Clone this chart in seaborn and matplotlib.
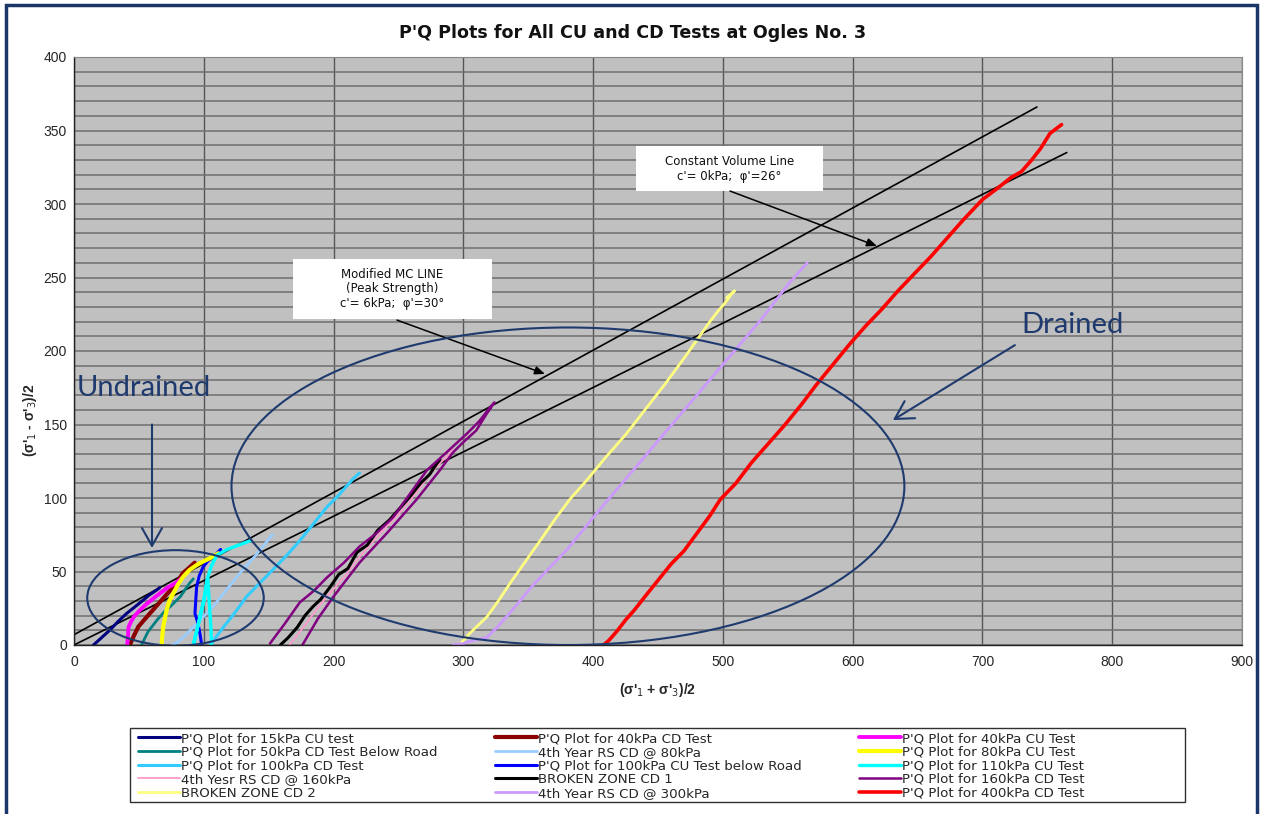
import numpy as np
import pandas as pd
import matplotlib
matplotlib.use("Agg")
import matplotlib.pyplot as plt
import seaborn as sns
from matplotlib.patches import Ellipse, Rectangle

# ---------------- data ----------------
mc_p = [0, 742]
mc_q = [7, 366]
cv_p = [0, 765]
cv_q = [0, 335]

p_15cu = [15, 20, 27.7, 34, 40.6, 47, 53.4, 58, 63.7, 66]
q_15cu = [0, 4, 10.2, 16, 21.5, 26, 30.6, 34, 37.4, 39]

p_40cd = [43, 46, 49.6, 55, 61, 67, 74, 79, 84, 88, 93]
q_40cd = [0, 6, 12.5, 18, 24, 30, 37, 42, 49, 52, 56]

p_40cu = [41, 41.5, 42, 44, 46, 50, 56, 63, 72, 78, 84]
q_40cu = [0, 5, 12, 16, 19, 23, 28, 33, 39, 42, 46]

p_50cd = [52, 57, 64, 69, 74, 82, 89, 92]
q_50cd = [0, 9, 17, 22, 26, 33, 42, 45]

p_rs80 = [76, 80, 84, 95, 107, 117, 128, 140, 151, 153]
q_rs80 = [0, 2, 5, 15, 26, 37, 49, 61, 73, 75]

p_80cu = [67.5, 68, 68.8, 70, 71.4, 73.5, 76.5, 80, 84.2, 89, 94.5, 100, 104.8, 111.2]
q_80cu = [0, 6, 12.5, 18, 23.8, 30, 35.1, 41, 46.5, 51, 54.4, 57, 59, 62.4]

p_100cd = [105, 110, 115, 124, 133, 143, 153, 164, 174, 185, 195, 203, 210, 215, 220]
q_100cd = [0, 6, 12, 22, 33, 42, 51, 61, 71, 83, 94, 101, 108, 113, 117]

p_100cu = [98.4, 97, 95.5, 93.2, 93.8, 94.5, 96.5, 99.6, 104, 110, 113]
q_100cu = [0, 8, 15, 21.5, 30, 39.7, 47, 53.3, 58, 62.4, 65]

p_110cu = [106, 105.5, 104.5, 103, 100, 96, 92, 96, 100, 103, 106, 110, 118, 127, 136]
q_110cu = [0, 12, 25, 46, 30, 15, 0, 15, 30, 46, 54, 61, 65, 68, 71]

p_rs160 = [166, 175, 185, 195, 208, 220, 235, 251, 264, 277, 287, 292]
q_rs160 = [0, 10, 22, 33, 46, 60, 75, 90, 104, 119, 128, 133]

p_bz1 = [159, 165, 172, 178, 184, 190, 197, 204, 211, 218, 226, 234, 243, 250, 258, 267, 274, 280, 282]
q_bz1 = [0, 5, 12, 20, 26, 31, 39, 48, 52, 63, 68, 78, 85, 92, 100, 110, 116, 124, 126]

p_160cd = [151, 162, 174, 185, 195, 208, 220, 233, 246, 259, 272, 287, 303, 312, 321, 324,
           318, 322, 310, 300, 292, 282, 264, 241, 220, 200, 188, 176]
q_160cd = [1, 14, 29, 37, 46, 56, 67, 76, 87, 103, 119, 131, 144, 152, 162, 165,
           158, 163, 146, 138, 131, 119, 99, 76, 56, 33, 18, 0]

p_bz2 = [297, 305, 318, 327, 336, 348, 360, 371, 382, 396, 410, 425, 440, 455, 470, 482,
         490, 497, 502, 506, 509, 503, 508]
q_bz2 = [0, 8, 19, 30, 42, 57, 72, 86, 99, 113, 128, 143, 160, 177, 195, 210,
         220, 228, 233, 238, 241, 236, 240]

p_rs300 = [292, 300, 307, 318, 326, 336, 355, 380, 405, 430, 455, 480, 505, 530, 550, 565]
q_rs300 = [0, 1, 3, 5, 12, 22, 42, 65, 92, 118, 144, 170, 196, 222, 245, 260]

p_400cd = [408, 412, 418, 425, 432, 440, 450, 460, 470, 480, 490, 498, 510, 522, 535, 548,
           560, 572, 585, 598, 610, 622, 635, 648, 660, 672, 685, 700, 712, 722, 730, 738,
           745, 752, 758, 761]
q_400cd = [0, 3, 9, 17, 24, 33, 44, 55, 64, 76, 88, 99, 110, 124, 137, 150,
           163, 177, 191, 205, 217, 228, 241, 253, 264, 276, 289, 303, 311, 318, 322, 330,
           338, 348, 352, 354]

x_ticks = [0, 100, 200, 300, 400, 500, 600, 700, 800, 900]
y_ticks = [0, 50, 100, 150, 200, 250, 300, 350, 400]

title = "P'Q Plots for All CU and CD Tests at Ogles No. 3"
x_label = r"(σ'$_1$ + σ'$_3$)/2"
y_label = r"(σ'$_1$ - σ'$_3$)/2"

# (label, p, q) ; styles kept separately
series = [
    ("P'Q Plot for 15kPa CU test", p_15cu, q_15cu),
    ("P'Q Plot for 50kPa CD Test Below Road", p_50cd, q_50cd),
    ("P'Q Plot for 100kPa CD Test", p_100cd, q_100cd),
    ("4th Yesr RS CD @ 160kPa", p_rs160, q_rs160),
    ("BROKEN ZONE CD 2", p_bz2, q_bz2),
    ("P'Q Plot for 40kPa CD Test", p_40cd, q_40cd),
    ("4th Year RS CD @ 80kPa", p_rs80, q_rs80),
    ("P'Q Plot for 100kPa CU Test below Road", p_100cu, q_100cu),
    ("BROKEN ZONE CD 1", p_bz1, q_bz1),
    ("4th Year RS CD @ 300kPa", p_rs300, q_rs300),
    ("P'Q Plot for 40kPa CU Test", p_40cu, q_40cu),
    ("P'Q Plot for 80kPa CU Test", p_80cu, q_80cu),
    ("P'Q Plot for 110kPa CU Test", p_110cu, q_110cu),
    ("P'Q Plot for 160kPa CD Test", p_160cd, q_160cd),
    ("P'Q Plot for 400kPa CD Test", p_400cd, q_400cd),
]
styles = {
    "P'Q Plot for 15kPa CU test": ("#000080", 2.2),
    "P'Q Plot for 50kPa CD Test Below Road": ("#008080", 2.0),
    "P'Q Plot for 100kPa CD Test": ("#33ccff", 2.2),
    "4th Yesr RS CD @ 160kPa": ("#ff99cc", 1.3),
    "BROKEN ZONE CD 2": ("#ffff80", 2.0),
    "P'Q Plot for 40kPa CD Test": ("#8b0000", 3.0),
    "4th Year RS CD @ 80kPa": ("#99ccff", 2.0),
    "P'Q Plot for 100kPa CU Test below Road": ("#0000ff", 2.2),
    "BROKEN ZONE CD 1": ("#000000", 2.2),
    "4th Year RS CD @ 300kPa": ("#cc99ff", 2.0),
    "P'Q Plot for 40kPa CU Test": ("#ff00ff", 2.8),
    "P'Q Plot for 80kPa CU Test": ("#ffff00", 3.0),
    "P'Q Plot for 110kPa CU Test": ("#00ffff", 2.4),
    "P'Q Plot for 160kPa CD Test": ("#800080", 1.8),
    "P'Q Plot for 400kPa CD Test": ("#ff0000", 2.6),
}

# ---------------- figure ----------------
sns.set_theme(style="white")
plt.rcParams["font.family"] = ["Liberation Sans", "DejaVu Sans"]

W, H = 1263, 814
fig = plt.figure(figsize=(W / 100, H / 100), dpi=100)
ax = fig.add_axes([74 / W, 1 - 645 / H, (1242 - 74) / W, (645 - 57) / H])
ax.set_facecolor("#c0c0c0")

ax.set_xlim(0, 900)
ax.set_ylim(0, 400)
ax.set_xticks(x_ticks)
ax.set_yticks(y_ticks)
ax.set_xticks(np.arange(0, 901, 20), minor=True)
ax.set_yticks(np.arange(0, 401, 10), minor=True)
ax.grid(which="both", axis="y", color="#6e6e6e", lw=1.1)
ax.grid(which="major", axis="x", color="#555555", lw=1.0)
ax.set_axisbelow(True)
ax.tick_params(axis="x", which="major", direction="out", length=4, labelsize=10, color="#333", pad=3)
ax.tick_params(axis="x", which="minor", direction="in", length=3, color="#333")
ax.tick_params(axis="y", which="major", direction="out", length=3, labelsize=10, color="#333", pad=2)
ax.tick_params(axis="y", which="minor", length=0)
for s in ["top", "right"]:
    ax.spines[s].set_color("#888888")
    ax.spines[s].set_linewidth(0.8)
for s in ["left", "bottom"]:
    ax.spines[s].set_color("#222222")
    ax.spines[s].set_linewidth(1.0)

# failure lines
sns.lineplot(x=mc_p, y=mc_q, color="black", lw=1.2, ax=ax, legend=False, sort=False)
sns.lineplot(x=cv_p, y=cv_q, color="black", lw=1.2, ax=ax, legend=False, sort=False)

# test paths
for label, p, q in series:
    c, lw = styles[label]
    df = pd.DataFrame({"p": p, "q": q})
    sns.lineplot(data=df, x="p", y="q", sort=False, estimator=None, color=c, lw=lw,
                 label=label, ax=ax)

ax.set_xlabel(x_label, fontsize=10, fontweight="bold", labelpad=9)
ax.set_ylabel(y_label, fontsize=10, fontweight="bold")
ax.yaxis.set_label_coords(-0.03, (645 - 420) / 588)

# legend
handles, labels = ax.get_legend_handles_labels()
ax.legend(handles, labels, loc="upper left",
          bbox_to_anchor=(138 / W, 1 - 732 / H), bbox_transform=fig.transFigure,
          ncol=3, frameon=False, prop={"family": "DejaVu Sans", "size": 9.6},
          handlelength=3.15, handletextpad=0.08, columnspacing=4.3,
          labelspacing=0.05, borderpad=0, borderaxespad=0)
fig.patches.append(Rectangle((130 / W, 1 - 802 / H), (1185 - 130) / W, (802 - 728) / H,
                             transform=fig.transFigure, fill=False, ec="#303030", lw=1.0))

# title
fig.text(633 / W, 1 - 33 / H, title, ha="center", va="center", fontsize=12.6,
         fontweight="bold", family="DejaVu Sans", color="#111111")

# annotation boxes
navy = "#1f3a6e"
ax.add_patch(Rectangle((0.1875, 0.5544), 0.3579 - 0.1875, 0.6565 - 0.5544,
                       transform=ax.transAxes, fc="white", ec="none", zorder=4))
ax.text((0.1875 + 0.3579) / 2, (0.5544 + 0.6565) / 2,
        "Modified MC LINE\n(Peak Strength)\nc'= 6kPa;  φ'=30°",
        transform=ax.transAxes, ha="center", va="center", fontsize=8.5,
        family="DejaVu Sans", linespacing=1.15, zorder=5, color="#111")
ax.add_patch(Rectangle((0.4812, 0.7721), 0.6413 - 0.4812, 0.8486 - 0.7721,
                       transform=ax.transAxes, fc="white", ec="none", zorder=4))
ax.text((0.4812 + 0.6413) / 2, (0.7721 + 0.8486) / 2,
        "Constant Volume Line\nc'= 0kPa;  φ'=26°",
        transform=ax.transAxes, ha="center", va="center", fontsize=8.5,
        family="DejaVu Sans", linespacing=1.2, zorder=5, color="#111")
ax.annotate("", xy=(362.9, 184.4), xytext=(248.9, 221),
            arrowprops=dict(arrowstyle="-|>,head_length=0.6,head_width=0.25", color="black",
                            lw=1.1, mutation_scale=10, shrinkA=0, shrinkB=0), zorder=5)
ax.annotate("", xy=(618.7, 271.4), xytext=(505.5, 308.8),
            arrowprops=dict(arrowstyle="-|>,head_length=0.6,head_width=0.25", color="black",
                            lw=1.1, mutation_scale=10, shrinkA=0, shrinkB=0), zorder=5)

# ellipses and callouts
ax.add_patch(Ellipse((380.6, 108), 518.5, 216, fill=False, ec=navy, lw=1.5, zorder=6))
ax.add_patch(Ellipse((78.2, 32), 136, 65, fill=False, ec=navy, lw=1.5, zorder=6))
ax.annotate("", xy=(60.1, 66), xytext=(60.1, 150),
            arrowprops=dict(arrowstyle="->,head_length=0.8,head_width=0.45", color=navy,
                            lw=1.5, mutation_scale=16, shrinkA=0, shrinkB=0), zorder=6)
ax.annotate("", xy=(631, 153), xytext=(725, 204),
            arrowprops=dict(arrowstyle="->,head_length=0.8,head_width=0.45", color=navy,
                            lw=1.5, mutation_scale=16, shrinkA=0, shrinkB=0), zorder=6)
ax.text(2.3, 174.8, "Undrained", ha="left", va="center", fontsize=21, family="Lato",
        color=navy, zorder=6)
ax.text(729.7, 217.7, "Drained", ha="left", va="center", fontsize=21, family="Lato",
        color=navy, zorder=6)

# outer frame
fig.patches.append(Rectangle((6 / W, -0.02), (1257 - 6) / W, 1 - 5 / H + 0.02,
                             transform=fig.transFigure, fill=False, ec="#1a3668", lw=2.5))

fig.savefig("out.png", dpi=100)
